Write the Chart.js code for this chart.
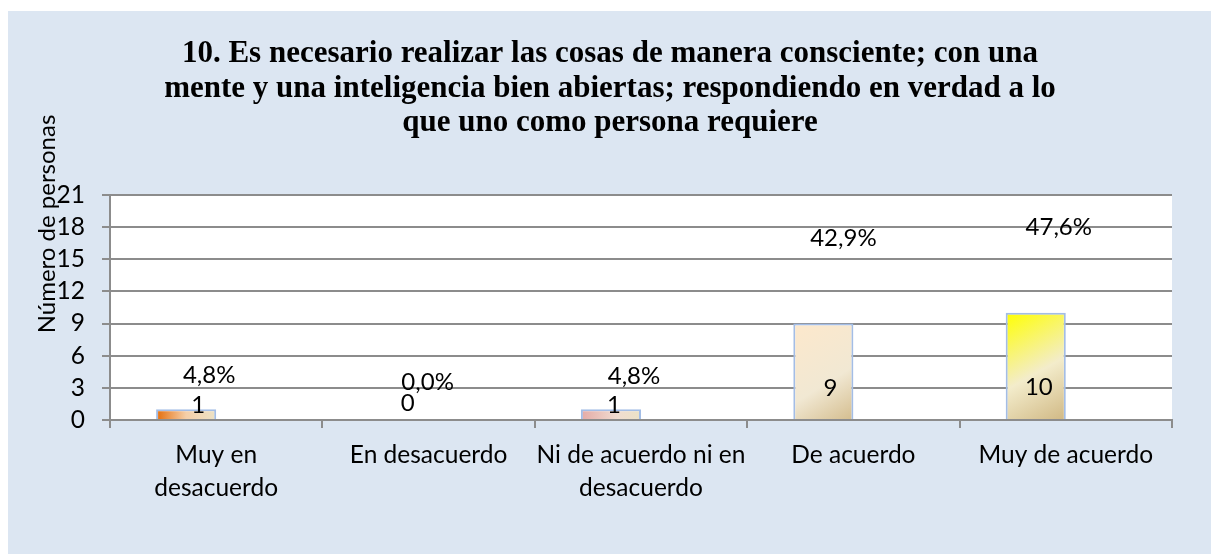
<!DOCTYPE html>
<html>
<head>
<meta charset="utf-8">
<script src="https://cdn.jsdelivr.net/npm/chart.js@4/dist/chart.umd.min.js"></script>
<style>
  html, body { margin: 0; padding: 0; background: #fff; }
  canvas { display: block; }
</style>
</head>
<body>
<canvas id="chart" width="1211" height="554"></canvas>
<script>
// Data
const categories = [['Muy en', 'desacuerdo'], 'En desacuerdo', ['Ni de acuerdo ni en', 'desacuerdo'], 'De acuerdo', 'Muy de acuerdo'];
const counts = [1, 0, 1, 9, 10];
const percents = [4.8, 0.0, 4.8, 42.9, 47.6];
const yTicks = [0, 3, 6, 9, 12, 15, 18, 21];
const titleLines = [
    '10. Es necesario realizar las cosas de manera consciente; con una',
    'mente y una inteligencia bien abiertas; respondiendo en verdad a lo',
    'que uno como persona requiere'
];
const yTitle = 'Número de personas';

// Label placement (value-space y, pixel x offset from category centre), as in the original
const countLabelAt = [[1.4, -18], [1.6, -21], [1.4, -27], [3.0, -23], [3.1, -27]];
const pctLabelAt = [[4.2, -7], [3.5, -1], [4.1, -7], [17.0, -10], [18.0, -7]];

// Bar fills
const barFills = [
    { dir: 'h', stops: [[0, '#e46c0a'], [0.5, '#f5cfa8'], [1, '#ece2c6']] },
    { dir: 'h', stops: [[0, '#ffffff'], [1, '#ffffff']] },
    { dir: 'h', stops: [[0, '#e4aaa6'], [0.6, '#f0dcd0'], [1, '#ebe2c6']] },
    { dir: 'd', stops: [[0, '#fde8cc'], [0.6, '#f1e8d3'], [1, '#d4bd8e']] },
    { dir: 'd', stops: [[0, '#ffff00'], [0.55, '#f3eccb'], [1, '#d0b884']] }
];

const CAT_PCT = 0.566;
const FONT = 'Lato, "Open Sans", sans-serif';

function barFill(ctx) {
    const chart = ctx.chart;
    const i = ctx.dataIndex;
    const xs = chart.scales.x, ys = chart.scales.y;
    if (i === undefined || !xs || !ys || !xs.width) return '#f1e8d3';
    const slot = xs.width / categories.length * CAT_PCT / 2;
    const right = xs.getPixelForValue(i);
    const left = right - slot;
    const top = ys.getPixelForValue(counts[i]);
    const bottom = ys.getPixelForValue(0);
    const f = barFills[i];
    const g = f.dir === 'h'
        ? chart.ctx.createLinearGradient(left, 0, right, 0)
        : chart.ctx.createLinearGradient(left, top, right, bottom);
    f.stops.forEach(s => g.addColorStop(s[0], s[1]));
    return g;
}

// Page background, panel and white plot area
const backdrop = {
    id: 'backdrop',
    beforeDraw(chart) {
        const c = chart.ctx, a = chart.chartArea;
        c.save();
        c.fillStyle = '#ffffff';
        c.fillRect(0, 0, chart.width, chart.height);
        c.fillStyle = '#dce6f2';
        c.fillRect(8, 11, chart.width - 8, chart.height - 11);
        c.fillStyle = '#ffffff';
        c.fillRect(a.left, a.top, a.right - a.left, a.bottom - a.top);
        c.restore();
    },
    afterDraw(chart) {
        const c = chart.ctx;
        c.save();
        // title
        c.fillStyle = '#000';
        c.font = 'bold 31px "Liberation Serif", "Times New Roman", serif';
        c.textAlign = 'center';
        c.textBaseline = 'alphabetic';
        titleLines.forEach((t, k) => c.fillText(t, 610, 62 + k * 34.5));
        // y axis title
        c.translate(47, 224);
        c.rotate(-Math.PI / 2);
        c.font = '24px ' + FONT;
        c.textBaseline = 'middle';
        c.fillText(yTitle, 0, 0);
        c.restore();
    }
};

// Value and percentage labels
const valueLabels = {
    id: 'valueLabels',
    afterDatasetsDraw(chart) {
        const c = chart.ctx;
        const xs = chart.scales.x, ys = chart.scales.y;
        c.save();
        c.fillStyle = '#000';
        c.font = '24px ' + FONT;
        c.textAlign = 'center';
        c.textBaseline = 'middle';
        counts.forEach((v, i) => {
            const cx = xs.getPixelForValue(i);
            c.fillText(String(v), cx + countLabelAt[i][1], ys.getPixelForValue(countLabelAt[i][0]));
            c.fillText(percents[i].toFixed(1).replace('.', ',') + '%',
                cx + pctLabelAt[i][1], ys.getPixelForValue(pctLabelAt[i][0]));
        });
        c.restore();
    }
};

new Chart(document.getElementById('chart'), {
    type: 'bar',
    data: {
        labels: categories,
        datasets: [{
            label: 'Personas',
            data: counts,
            backgroundColor: barFill,
            borderColor: '#a3bde6',
            borderWidth: 2,
            categoryPercentage: CAT_PCT,
            barPercentage: 1
        }, {
            label: 'Porcentaje',
            data: percents.map(p => p / 100),
            backgroundColor: 'rgba(0,0,0,0)',
            borderWidth: 0,
            categoryPercentage: CAT_PCT,
            barPercentage: 1
        }]
    },
    options: {
        responsive: false,
        animation: false,
        layout: { padding: { left: 0, right: 39, top: 195, bottom: 0 } },
        plugins: {
            legend: { display: false },
            title: { display: false },
            tooltip: { enabled: false }
        },
        scales: {
            x: {
                afterFit: s => { s.height = 134; },
                grid: {
                    drawOnChartArea: false,
                    drawTicks: true,
                    tickLength: 8,
                    offset: true,
                    color: '#8c8c8c',
                    lineWidth: 2
                },
                border: { color: '#8c8c8c', width: 2 },
                ticks: {
                    color: '#000',
                    padding: 11,
                    maxRotation: 0,
                    autoSkip: false,
                    font: { family: FONT, size: 24.5, lineHeight: 1.33 }
                }
            },
            y: {
                min: 0,
                max: 21,
                afterFit: s => { s.width = 110; },
                afterBuildTicks: s => { s.ticks = yTicks.map(v => ({ value: v })); },
                grid: { color: '#8c8c8c', lineWidth: 2, tickLength: 8 },
                border: { color: '#8c8c8c', width: 2 },
                ticks: {
                    color: '#000',
                    padding: 17,
                    autoSkip: false,
                    font: { family: FONT, size: 24.5 }
                }
            }
        }
    },
    plugins: [backdrop, valueLabels]
});
</script>
</body>
</html>
